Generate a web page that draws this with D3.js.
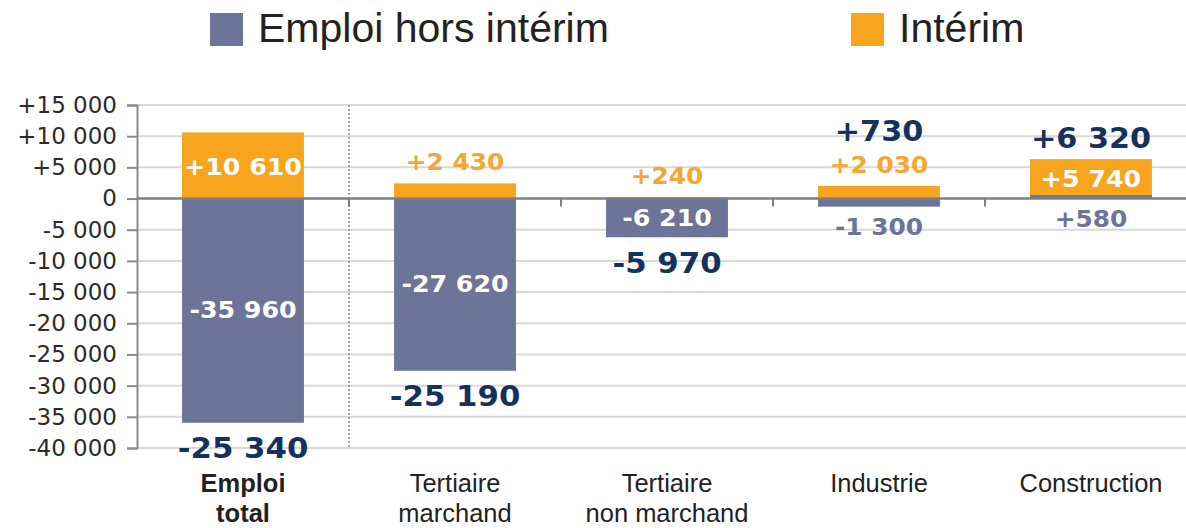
<!DOCTYPE html>
<html>
<head>
<meta charset="utf-8">
<script src="https://cdn.jsdelivr.net/npm/d3@7"></script>
<style>
  html, body { margin: 0; padding: 0; background: #fff; }
  svg { display: block; }
</style>
</head>
<body>
<svg id="chart" width="1186" height="528"></svg>
<script>
// ---- Data ----
const categories = ["Emploi total", "Tertiaire marchand", "Tertiaire non marchand", "Industrie", "Construction"];
const categoryLines = [["Emploi", "total"], ["Tertiaire", "marchand"], ["Tertiaire", "non marchand"], ["Industrie"], ["Construction"]];
const horsInterim = [-35960, -27620, -6210, -1300, 580];
const interim = [10610, 2430, 240, 2030, 5740];
const totals = [-25340, -25190, -5970, 730, 6320];
const yTicks = [15000, 10000, 5000, 0, -5000, -10000, -15000, -20000, -25000, -30000, -35000, -40000];
const seriesNames = ["Emploi hors intérim", "Intérim"];

// ---- Styles ----
const C_BLUE = "#6c7598";
const C_ORANGE = "#f7a51d";
const C_NAVY = "#15325e";
const C_ORANGE_TXT = "#f4a733";
const NUM_FONT = "'DejaVu Sans', Verdana, sans-serif";
const TXT_FONT = "'Liberation Sans', Arial, sans-serif";

const svg = d3.select("#chart");

const y = d3.scaleLinear().domain([-40000, 15000]).range([448, 105]);
const x = d3.scaleBand().domain(categories).range([137, 1197]).paddingInner(0.425).paddingOuter(0.2125);

const fmt = v => {
  const s = d3.format(",")(Math.abs(v)).replace(/,/g, " ");
  if (v > 0) return "+" + s;
  if (v < 0) return "-" + s;
  return "0";
};

// Gridlines
svg.append("g").selectAll("line").data(yTicks.filter(t => t !== 0)).join("line")
  .attr("x1", 137).attr("x2", 1186)
  .attr("y1", d => y(d)).attr("y2", d => y(d))
  .attr("stroke", "#d9d9d9").attr("stroke-width", 2);

// Y axis
const yAxis = d3.axisLeft(y).tickValues(yTicks).tickSize(10).tickPadding(10)
  .tickFormat(d => fmt(d));
const ya = svg.append("g").attr("transform", "translate(137,0)").call(yAxis);
ya.select(".domain").attr("stroke", "#8a8a8a").attr("stroke-width", 2);
ya.selectAll(".tick line").attr("stroke", "#8a8a8a").attr("stroke-width", 2);
ya.selectAll(".tick text").attr("font-family", NUM_FONT).attr("font-size", 23)
  .attr("fill", "#2b2b2b");

// Dotted separator after first category
const step = x.step();
const x0 = x.range()[0];
svg.append("line")
  .attr("x1", x0 + step).attr("x2", x0 + step)
  .attr("y1", 105).attr("y2", 448)
  .attr("stroke", "#8a8a8a").attr("stroke-width", 1.5).attr("stroke-dasharray", "2,2");

// Bars
const bw = x.bandwidth();
const g = svg.append("g");
categories.forEach((c, i) => {
  const h = horsInterim[i];
  const it = interim[i];
  const bx = x(c);
  g.append("rect").attr("x", bx).attr("width", bw)
    .attr("y", y(Math.max(0, h))).attr("height", Math.abs(y(h) - y(0)))
    .attr("fill", C_BLUE);
  const base = Math.max(0, h);
  g.append("rect").attr("x", bx).attr("width", bw)
    .attr("y", y(base + it)).attr("height", y(base) - y(base + it))
    .attr("fill", C_ORANGE);
});

// Zero line
svg.append("line").attr("x1", 137).attr("x2", 1186).attr("y1", y(0)).attr("y2", y(0))
  .attr("stroke", "#7f7f7f").attr("stroke-width", 2.5);
svg.append("g").selectAll("line").data(d3.range(1, categories.length)).join("line")
  .attr("x1", d => x0 + d * step).attr("x2", d => x0 + d * step)
  .attr("y1", y(0)).attr("y2", y(0) + 8)
  .attr("stroke", "#7f7f7f").attr("stroke-width", 2);

// Value labels
const lab = svg.append("g").attr("font-family", NUM_FONT).attr("font-weight", "bold")
  .attr("text-anchor", "middle").attr("dominant-baseline", "central");
function label(cx, cy, txt, fill, size, sx) {
  lab.append("text").attr("transform", `translate(${cx},${cy}) scale(${sx},1)`)
    .attr("fill", fill).attr("font-size", size).text(txt);
}
categories.forEach((c, i) => {
  const cx = x(c) + bw / 2;
  const h = horsInterim[i];
  const it = interim[i];
  const base = Math.max(0, h);
  const stackTop = y(base + it);
  const orangeH = y(base) - y(base + it);
  const blueH = Math.abs(y(h) - y(0));
  let topY = stackTop;
  if (orangeH > 30) {
    label(cx, (y(base) + stackTop) / 2 + 2, fmt(it), "#fff", 23, 1.1);
  } else {
    const ly = stackTop - 21;
    label(cx, ly, fmt(it), C_ORANGE_TXT, 23, 1.08);
    topY = ly - 12;
  }
  const bottomY = Math.max(y(h), y(0));
  if (blueH > 30) {
    label(cx, (y(h) + y(0)) / 2, fmt(h), "#fff", 23, 1.1);
  } else {
    label(cx, bottomY + 21, fmt(h), C_BLUE, 23, 1.08);
  }
  const t = totals[i];
  if (t < 0) {
    label(cx, bottomY + 26, fmt(t), C_NAVY, 28, 1.1);
  } else {
    label(cx, topY - 21, fmt(t), C_NAVY, 28, 1.08);
  }
});

// Category labels (one text element per line)
const cl = svg.append("g").attr("font-family", TXT_FONT).attr("font-size", 26)
  .attr("fill", "#222").attr("text-anchor", "middle");
categories.forEach((c, i) => {
  const cx = x(c) + bw / 2;
  categoryLines[i].forEach((ln, j) => {
    cl.append("text").attr("transform", `translate(${cx},${492 + j * 30}) scale(0.98,1)`)
      .attr("font-weight", i === 0 ? "bold" : "normal").text(ln);
  });
});

// Legend
const legend = svg.append("g");
const legendX = [210, 851];
const legendColors = [C_BLUE, C_ORANGE];
seriesNames.forEach((n, i) => {
  legend.append("rect").attr("x", legendX[i]).attr("y", 13).attr("width", 33).attr("height", 33)
    .attr("fill", legendColors[i]);
  legend.append("text").attr("x", legendX[i] + 48).attr("y", 42)
    .attr("font-family", TXT_FONT).attr("font-size", 41).attr("fill", "#222")
    .text(n);
});
</script>
</body>
</html>
